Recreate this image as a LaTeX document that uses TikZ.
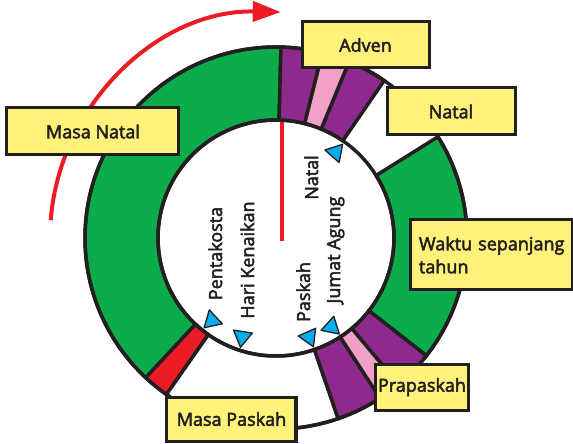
\documentclass[tikz,border=0pt]{standalone}
\usepackage{fontspec}
\newfontfamily\labfont{Open Sans}[FakeBold=2.8]
\usetikzlibrary{arrows.meta}
\definecolor{ink}{HTML}{231F20}
\definecolor{grn}{HTML}{0DAC4B}
\definecolor{prp}{HTML}{8E2A8D}
\definecolor{pnk}{HTML}{F3A0C8}
\definecolor{rd}{HTML}{ED1C24}
\definecolor{ylw}{HTML}{FFF27A}
\definecolor{blu}{HTML}{00AEEF}
\newcommand\ringsect[3]{\filldraw[fill=#3,ringline] (#1:191) arc[start angle=#1,end angle=#2,radius=191] -- (#2:118) arc[start angle=#2,end angle=#1,radius=118] -- cycle;}
\newcommand\bluetri[2]{\begin{scope}[shift={(#1:115)},rotate=#2]\filldraw[tripoint] (0,0) -- (-16,9.5) -- (-16,-9.5) -- cycle;\end{scope}}
\begin{document}
\begin{tikzpicture}[x=1pt,y=1pt,
  ringline/.style={draw=ink,line width=3.5pt},
  tripoint/.style={fill=blu,draw=ink,line width=1.3pt,line join=round},
  box/.style={draw=ink,fill=ylw,line width=3pt,inner sep=0pt,text=ink,font=\labfont\fontsize{18pt}{23pt}\selectfont},
  lab/.style={rotate=90,anchor=base,inner sep=0pt,text=ink,font=\labfont\fontsize{18pt}{23pt}\selectfont}]
\useasboundingbox (-276,-206) rectangle (297,238);
% red arrow arc
\draw[rd,line width=4pt,-{Triangle[length=28pt,width=20pt]}] (175.5:226) arc[start angle=175.5,end angle=88.8,radius=226];
% red vertical line
\draw[rd,line width=4pt] (6,117) -- (6,-3);
% ring
\ringsect{88.5}{227}{grn}
\ringsect{227}{235}{rd}
\ringsect{235}{289}{white}
\ringsect{289}{303}{prp}
\ringsect{303}{310}{pnk}
\ringsect{310}{322}{prp}
\ringsect{322}{392}{grn}
\ringsect{55.5}{67.5}{prp}
\ringsect{67.5}{76}{pnk}
\ringsect{76}{88.5}{prp}
\draw[ringline] (0,0) circle[radius=118];
\draw[ringline] (0,0) circle[radius=191];
% blue triangles
\bluetri{-128.7}{-137}
\bluetri{-108}{-99}
\bluetri{-71}{-66}
\bluetri{-56.6}{-42}
\bluetri{54.6}{48.6}
% inner labels
\node[lab] (lpent) at (-54,-15.5) {Pentakosta};
\node[lab] (lhari) at (-22,-22) {Hari Kenaikan};
\node[lab] (lpask) at (34,-54) {Paskah};
\node[lab] (ljumat) at (64,-12) {Jumat Agung};
\node[lab] (lnatal) at (42,60.5) {Natal};
% boxes
\node[box,minimum width=127pt,minimum height=46pt] (adven) at (89.5,193) {Adven};
\node[box,minimum width=128pt,minimum height=47pt] (natal) at (175,126.5) {Natal};
\node[box,minimum width=162pt,minimum height=70pt,text width=144pt,align=left] (waktu) at (215,-17) {\hfuzz=100pt\mbox{Waktu sepanjang}\\tahun};
\node[box,minimum width=93pt,minimum height=46pt] (prapaskah) at (146,-149) {Prapaskah};
\node[box,minimum width=129pt,minimum height=44pt] (masapaskah) at (-44.5,-181) {Masa Paskah};
\node[box,minimum width=172pt,minimum height=47pt] (masanatal) at (-183,106.5) {Masa Natal};
\end{tikzpicture}
\end{document}
